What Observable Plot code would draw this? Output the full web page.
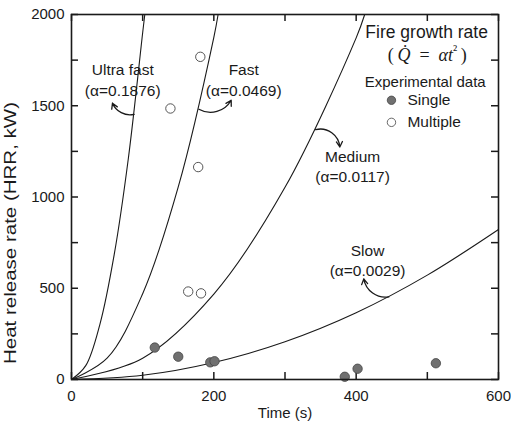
<!DOCTYPE html>
<html><head><meta charset="utf-8">
<script src="https://cdn.jsdelivr.net/npm/d3@7"></script>
<script src="https://cdn.jsdelivr.net/npm/@observablehq/plot@0.6"></script>
<style>body{margin:0;background:#fff} #chart svg{display:block}</style>
</head><body><div id="chart"></div>
<script>
// ---- data ----
const xTickLabels = [0, 200, 400, 600];
const xMinorTicks = [0, 100, 200, 300, 400, 500, 600];
const yTickLabels = [0, 500, 1000, 1500, 2000];
const yMinorTicks = [0, 250, 500, 750, 1000, 1250, 1500, 1750, 2000];

const xTitle = "Time (s)";
const yTitle = "Heat release rate (HRR, kW)";

// fire growth curves
const ultraT = [0, 20, 40, 60, 80, 100, 103];
const ultraQ = [0, 76, 304, 684, 1215, 1900, 2000];
const fastT = [0, 50, 100, 150, 200, 206];
const fastQ = [0, 117, 470, 1055, 1875, 2000];
const mediumT = [0, 100, 200, 300, 400, 412];
const mediumQ = [0, 117, 468, 1053, 1872, 2000];
const slowT = [0, 100, 200, 300, 400, 500, 600];
const slowQ = [0, 23, 93, 207, 366, 572, 822];

// experimental data
const singleT = [117, 150, 195, 201, 384, 402, 512];
const singleQ = [175, 125, 94, 100, 15, 59, 89];
const multipleT = [181, 139, 178, 164, 182];
const multipleQ = [1768, 1485, 1164, 482, 472];

// curve annotations
const curveLabels = ["Ultra fast\n(α=0.1876)", "Fast\n(α=0.0469)", "Medium\n(α=0.0117)", "Slow\n(α=0.0029)"];
const labelT = [72, 242, 395, 416];
const labelQ = [1646, 1646, 1173, 659];
const arrowT1 = [88, 179, 343, 446];
const arrowQ1 = [1453, 1481, 1369, 453];
const arrowT2 = [57.6, 224.4, 377, 410.7];
const arrowQ2 = [1514, 1530, 1274, 551];
const arrowBend = [40, -45, 50, 45];

// legend
const legendTitle = "Fire growth rate";
const legendFormula = "( Q\u0307 = \u03B1t\u00B2 )";
const formulaParts = ["(", "\u2009Q\u0307", "\u2002=\u2002", "\u03B1t", "\u00B2", "\u2009)"];
const legendSub = "Experimental data";
const legendNames = ["Single", "Multiple"];

// ---- build ----
const W = 511, H = 425, ML = 71, MR = 13, MT = 14, MB = 46;
const xDomain = [0, 600], yDomain = [0, 2000];
const TL = 7; // inward tick length in px, converted to data units below
const tickQ = TL * (yDomain[1] - yDomain[0]) / (H - MT - MB);
const tickT = TL * (xDomain[1] - xDomain[0]) / (W - ML - MR);

const curves = [[ultraT, ultraQ], [fastT, fastQ], [mediumT, mediumQ], [slowT, slowQ]]
  .map(([T, Q]) => T.map((t, i) => ({t, q: Q[i]})));
const single = singleT.map((t, i) => ({t, q: singleQ[i]}));
const multiple = multipleT.map((t, i) => ({t, q: multipleQ[i]}));
const labels = curveLabels.map((s, i) => ({s, t: labelT[i], q: labelQ[i]}));
const arrows = arrowT1.map((t, i) => ({t1: t, q1: arrowQ1[i], t2: arrowT2[i], q2: arrowQ2[i], bend: arrowBend[i]}));

const ink = "#1a1a1a";
const fillGray = "#707070";
const fmt = d => String(d);
const tickStyle = {stroke: ink, strokeWidth: 1.5};

const plot = Plot.plot({
  width: W,
  height: H,
  marginLeft: ML,
  marginRight: MR,
  marginTop: MT,
  marginBottom: MB,
  style: {fontFamily: "'Liberation Sans', Arial, sans-serif", fontSize: "15px", color: ink, background: "#fff"},
  x: {domain: xDomain},
  y: {domain: yDomain},
  marks: [
    // inward ticks on all four sides
    Plot.ruleX(xMinorTicks, {x: d => d, y1: yDomain[0], y2: yDomain[0] + tickQ, ...tickStyle}),
    Plot.ruleX(xMinorTicks, {x: d => d, y1: yDomain[1] - tickQ, y2: yDomain[1], ...tickStyle}),
    Plot.ruleY(yMinorTicks, {y: d => d, x1: xDomain[0], x2: xDomain[0] + tickT, ...tickStyle}),
    Plot.ruleY(yMinorTicks, {y: d => d, x1: xDomain[1] - tickT, x2: xDomain[1], ...tickStyle}),
    // tick labels
    Plot.axisX(xTickLabels, {anchor: "bottom", tickSize: 0, tickPadding: 11, tickFormat: fmt, label: null, fill: ink, fontSize: 15}),
    Plot.axisY(yTickLabels, {anchor: "left", tickSize: 0, tickPadding: 7, tickFormat: fmt, label: null, fill: ink, fontSize: 15}),
    // axis titles
    Plot.text([xTitle], {frameAnchor: "bottom", lineAnchor: "middle", dy: 34, text: d => d, fontSize: 15, fill: ink}),
    Plot.text([yTitle], {frameAnchor: "left", textAnchor: "middle", lineAnchor: "middle", rotate: -90, dx: -61, dy: 36, text: d => d, fontSize: 17, fill: ink}),
    // curves
    ...curves.map(c => Plot.line(c, {x: "t", y: "q", curve: "catmull-rom", stroke: ink, strokeWidth: 1.1})),
    // arrows
    ...arrows.map(a => Plot.arrow([a], {x1: "t1", y1: "q1", x2: "t2", y2: "q2", bend: a.bend, headLength: 7, stroke: ink, strokeWidth: 1.3})),
    // curve labels
    Plot.text(labels, {x: "t", y: "q", text: "s", lineHeight: 1.33, fontSize: 15.5, fill: ink}),
    // data
    Plot.dot(single, {x: "t", y: "q", r: 4.7, fill: fillGray, stroke: "#444", strokeWidth: 0.8}),
    Plot.dot(multiple, {x: "t", y: "q", r: 4.7, fill: "#fff", stroke: "#444", strokeWidth: 0.9}),
    // legend
    Plot.text([legendTitle], {x: () => 499, y: () => 1900, text: d => d, fontSize: 17.5, fill: ink}),
    Plot.text([legendFormula], {x: () => 500, y: () => 1778, text: d => d, fontSize: 18, fontFamily: "'Liberation Serif', 'DejaVu Serif', serif", fill: ink}),
    Plot.text([legendSub], {x: () => 497, y: () => 1629, text: d => d, fontSize: 15, fill: ink}),
    Plot.dot(legendNames, {x: () => 449.6, y: (d, i) => [1530, 1409][i], r: 4.2, fill: (d, i) => i === 0 ? fillGray : "#fff", stroke: "#444", strokeWidth: 0.8}),
    Plot.text(legendNames, {x: () => 472, y: (d, i) => [1530, 1409][i], text: d => d, textAnchor: "start", fontSize: 15.5, fill: ink}),
    Plot.frame({stroke: ink, strokeWidth: 1.6})
  ]
});

// typographic touches: stretch y title to the reference length; mixed italic formula
const svg = d3.select(plot);
svg.selectAll("text").filter(function() { return this.textContent === yTitle; })
  .attr("textLength", 262).attr("lengthAdjust", "spacingAndGlyphs");
svg.selectAll("text").filter(function() { return this.textContent === legendFormula; })
  .each(function() {
    const t = d3.select(this);
    t.text(null);
    formulaParts.forEach((s, i) => {
      const sp = t.append("tspan").text(s);
      if (i === 1 || i === 3) sp.attr("font-style", "italic");
      if (i === 4) sp.attr("font-size", "14px").attr("dy", "-6");
      if (i === 5) sp.attr("dy", "6");
    });
  });
document.getElementById("chart").appendChild(plot);
</script>
</body></html>
